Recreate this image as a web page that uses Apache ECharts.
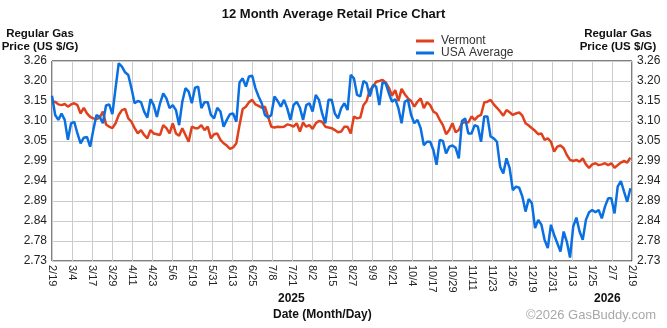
<!DOCTYPE html>
<html>
<head>
<meta charset="utf-8">
<script src="https://cdn.jsdelivr.net/npm/echarts@6/dist/echarts.min.js"></script>
<style>
  html, body { margin: 0; padding: 0; background: #fff; }
  #chart { width: 667px; height: 328px; }
</style>
</head>
<body>
<div id="chart"></div>
<script>
// Daily retail regular gas prices, one reading every 2 days starting 2/19/2025
const SAMPLE_STEP_DAYS = 2;
const SPAN_DAYS = 365;

const VERMONT = [
  3.150, 3.152, 3.145, 3.143, 3.146, 3.139, 3.145, 3.148, 3.143, 3.121,
  3.136, 3.121, 3.112, 3.108, 3.106, 3.110, 3.126, 3.092, 3.086, 3.082,
  3.095, 3.117, 3.130, 3.133, 3.108, 3.099, 3.082, 3.068, 3.077, 3.064,
  3.055, 3.077, 3.068, 3.066, 3.064, 3.090, 3.082, 3.068, 3.095, 3.068,
  3.062, 3.082, 3.064, 3.046, 3.086, 3.082, 3.082, 3.090, 3.077, 3.086,
  3.055, 3.066, 3.068, 3.051, 3.042, 3.036, 3.027, 3.031, 3.042, 3.090,
  3.133, 3.139, 3.151, 3.157, 3.145, 3.141, 3.136, 3.139, 3.112, 3.086,
  3.084, 3.086, 3.085, 3.086, 3.092, 3.090, 3.086, 3.095, 3.073, 3.097,
  3.086, 3.090, 3.080, 3.095, 3.101, 3.099, 3.086, 3.084, 3.082, 3.077,
  3.071, 3.073, 3.086, 3.086, 3.068, 3.113, 3.108, 3.110, 3.143, 3.154,
  3.183, 3.192, 3.205, 3.207, 3.210, 3.203, 3.189, 3.168, 3.183, 3.154,
  3.186, 3.172, 3.161, 3.154, 3.139, 3.152, 3.161, 3.135, 3.151, 3.143,
  3.126, 3.121, 3.104, 3.090, 3.066, 3.077, 3.095, 3.071, 3.077, 3.095,
  3.099, 3.097, 3.113, 3.104, 3.113, 3.117, 3.150, 3.152, 3.157, 3.145,
  3.136, 3.126, 3.115, 3.130, 3.124, 3.117, 3.121, 3.124, 3.115, 3.095,
  3.089, 3.082, 3.075, 3.066, 3.068, 3.051, 3.055, 3.046, 3.020, 3.033,
  3.036, 3.029, 3.011, 2.998, 2.995, 2.998, 2.993, 3.002, 2.986, 2.977,
  2.986, 2.989, 2.984, 2.986, 2.989, 2.984, 2.989, 2.977, 2.984, 2.991,
  2.995, 2.991, 3.004
];

const USA_AVERAGE = [
  3.168, 3.117, 3.104, 3.121, 3.104, 3.051, 3.095, 3.099, 3.068, 3.042,
  3.057, 3.059, 3.033, 3.077, 3.117, 3.112, 3.095, 3.142, 3.145, 3.119,
  3.188, 3.254, 3.245, 3.230, 3.223, 3.188, 3.148, 3.154, 3.151, 3.126,
  3.110, 3.159, 3.143, 3.112, 3.148, 3.174, 3.161, 3.135, 3.143, 3.130,
  3.090, 3.152, 3.188, 3.179, 3.148, 3.189, 3.192, 3.135, 3.151, 3.151,
  3.117, 3.108, 3.136, 3.126, 3.086, 3.104, 3.119, 3.121, 3.099, 3.203,
  3.214, 3.192, 3.219, 3.221, 3.188, 3.166, 3.148, 3.117, 3.110, 3.117,
  3.166, 3.154, 3.139, 3.157, 3.135, 3.104, 3.143, 3.152, 3.136, 3.104,
  3.143, 3.148, 3.126, 3.170, 3.157, 3.121, 3.095, 3.157, 3.157, 3.121,
  3.108, 3.135, 3.148, 3.130, 3.223, 3.214, 3.170, 3.166, 3.207, 3.201,
  3.166, 3.196, 3.192, 3.143, 3.203, 3.201, 3.174, 3.152, 3.159, 3.135,
  3.095, 3.152, 3.157, 3.117, 3.095, 3.104, 3.082, 3.037, 3.046, 3.046,
  3.024, 2.985, 3.051, 3.048, 3.015, 3.033, 3.036, 3.030, 3.002, 3.101,
  3.108, 3.068, 3.068, 3.090, 3.086, 3.046, 3.113, 3.113, 3.060, 3.055,
  3.046, 2.980, 2.962, 3.002, 2.976, 2.918, 2.927, 2.924, 2.901, 2.861,
  2.894, 2.883, 2.817, 2.839, 2.826, 2.786, 2.764, 2.826, 2.799, 2.777,
  2.755, 2.808, 2.781, 2.739, 2.821, 2.845, 2.808, 2.786, 2.839, 2.859,
  2.865, 2.859, 2.865, 2.843, 2.874, 2.896, 2.896, 2.856, 2.927, 2.942,
  2.914, 2.887, 2.923
];

// Date labels along the bottom, evenly spaced over the year
const X_TICKS = [
  '2/19', '3/4', '3/17', '3/29', '4/11', '4/23', '5/6', '5/19', '5/31', '6/13',
  '6/25', '7/8', '7/21', '8/2', '8/15', '8/27', '9/9', '9/21', '10/4', '10/17',
  '10/29', '11/11', '11/23', '12/6', '12/19', '12/31', '1/13', '1/25', '2/7', '2/19'
];

// Price labels, bottom to top
const Y_TICKS = ['2.73', '2.78', '2.84', '2.89', '2.94', '2.99', '3.05', '3.10', '3.15', '3.20', '3.26'];
const Y_MIN = 2.73, Y_MAX = 3.26, Y_STEP = 0.053;

const FONT = '"Liberation Sans", Arial, sans-serif';
const RED = '#e0401c';
const BLUE = '#0a6fe0';
const AXIS_TITLE = 'Regular Gas\nPrice (US $/G)';

const xStep = SPAN_DAYS / (X_TICKS.length - 1);
const toPairs = arr => arr.map((v, i) => [i * SAMPLE_STEP_DAYS, v]);

const chart = echarts.init(document.getElementById('chart'), null, { renderer: 'canvas' });

const yAxisBase = {
  type: 'value',
  min: Y_MIN,
  max: Y_MAX,
  interval: Y_STEP,
  axisLine: { show: false },
  axisTick: { show: false },
  splitLine: { show: true, lineStyle: { color: '#cccccc', width: 1 } },
  axisLabel: {
    fontFamily: FONT,
    fontSize: 12,
    color: '#222',
    margin: 5,
    formatter: (v, i) => Y_TICKS[i] !== undefined ? Y_TICKS[i] : ''
  }
};

const axisTitle = (cx) => ({
  type: 'text',
  x: cx,
  y: 27,
  style: { text: AXIS_TITLE, font: 'bold 11.5px ' + FONT, fill: '#111', align: 'center', verticalAlign: 'top', lineHeight: 13 }
});

chart.setOption({
  animation: false,
  backgroundColor: '#ffffff',
  title: {
    text: '12 Month Average Retail Price Chart',
    left: 'center',
    top: 3,
    textStyle: { fontFamily: FONT, fontSize: 13, fontWeight: 'bold', color: '#111' }
  },
  legend: {
    orient: 'vertical',
    left: 411,
    top: 30,
    itemWidth: 18,
    itemHeight: 3,
    itemGap: 0,
    icon: 'rect',
    textStyle: { fontFamily: FONT, fontSize: 12, color: '#333', padding: [0, 0, 0, 2] },
    data: ['Vermont', 'USA Average']
  },
  grid: {
    left: 52,
    right: 35,
    top: 61,
    bottom: 67,
    show: true,
    borderColor: '#000',
    borderWidth: 1,
    outerBoundsMode: 'none'
  },
  xAxis: {
    type: 'value',
    min: 0,
    max: SPAN_DAYS,
    interval: xStep,
    axisLine: { show: false },
    axisTick: { show: false },
    splitLine: { show: true, lineStyle: { color: '#cccccc', width: 1 } },
    axisLabel: {
      rotate: -90,
      fontFamily: FONT,
      fontSize: 11,
      color: '#222',
      margin: 4,
      showMinLabel: true,
      showMaxLabel: true,
      formatter: v => X_TICKS[Math.round(v / xStep)] || ''
    }
  },
  yAxis: [
    Object.assign({}, yAxisBase, { position: 'left' }),
    Object.assign({}, yAxisBase, { position: 'right', splitLine: { show: false } })
  ],
  graphic: [
    axisTitle(40),
    axisTitle(618),
    { type: 'text', left: 278, top: 293, style: { text: '2025', font: 'bold 12px ' + FONT, fill: '#111' } },
    { type: 'text', left: 594, top: 293, style: { text: '2026', font: 'bold 12px ' + FONT, fill: '#111' } },
    { type: 'text', left: 273, top: 309, style: { text: 'Date (Month/Day)', font: 'bold 12px ' + FONT, fill: '#111' } },
    { type: 'text', left: 526, top: 309, style: { text: '\u00a92026 GasBuddy.com', font: '13px ' + FONT, fill: '#a8a8a8' } }
  ],
  series: [
    {
      name: 'Vermont',
      type: 'line',
      data: toPairs(VERMONT),
      showSymbol: false,
      symbol: 'none',
      lineStyle: { color: RED, width: 2.5 },
      itemStyle: { color: RED },
      z: 3
    },
    {
      name: 'USA Average',
      type: 'line',
      data: toPairs(USA_AVERAGE),
      showSymbol: false,
      symbol: 'none',
      lineStyle: { color: BLUE, width: 2.5 },
      itemStyle: { color: BLUE },
      z: 4
    }
  ]
});
</script>
</body>
</html>
